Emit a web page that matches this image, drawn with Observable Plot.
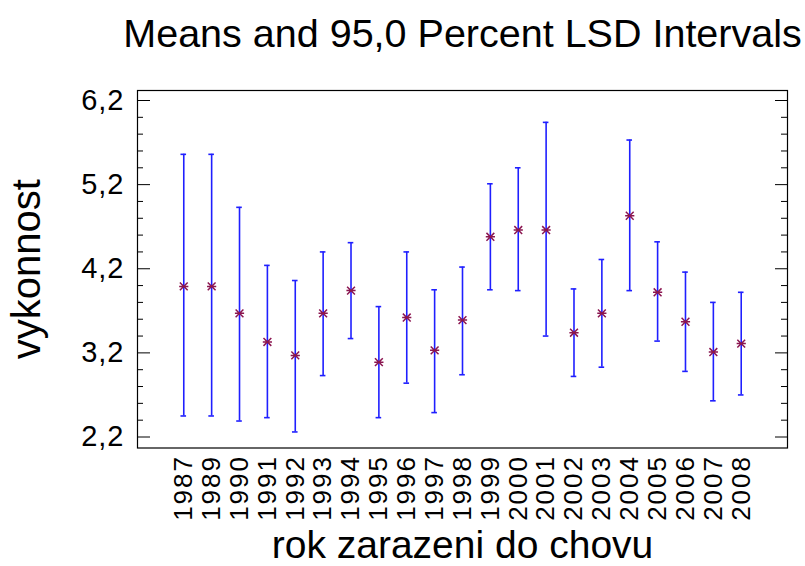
<!DOCTYPE html>
<html>
<head>
<meta charset="utf-8">
<script src="https://cdn.jsdelivr.net/npm/d3@7"></script>
<script src="https://cdn.jsdelivr.net/npm/@observablehq/plot@0.6"></script>
<style>
  body { margin: 0; background: white; }
  g[aria-label="x-axis tick label"] text { letter-spacing: 2px; }
  g[aria-label="y-axis tick label"] text { letter-spacing: 1px; }
</style>
</head>
<body>
<div id="chart"></div>
<script>
// Year of entry into the herd (categories)
const years = ["1987","1989","1990","1991","1992","1993","1994","1995","1996","1997","1998",
               "1999","2000","2001","2002","2003","2004","2005","2006","2007","2008"];
// Group means of performance
const means = [3.99,3.99,3.67,3.33,3.17,3.67,3.94,3.09,3.62,3.23,3.59,
               4.58,4.66,4.66,3.44,3.67,4.83,3.92,3.57,3.21,3.31];
// 95% LSD interval limits
const lower = [2.45,2.45,2.39,2.43,2.26,2.93,3.37,2.43,2.84,2.49,2.94,
               3.95,3.94,3.40,2.92,3.03,3.94,3.34,2.98,2.63,2.70];
const upper = [5.56,5.56,4.93,4.24,4.06,4.40,4.51,3.75,4.40,3.95,4.22,
               5.21,5.40,5.94,3.96,4.31,5.73,4.52,4.16,3.80,3.92];
// Y axis ticks
const majorTicks = [2.2, 3.2, 4.2, 5.2, 6.2];
const minorTicks = [2.4,2.6,2.8,3.0,3.4,3.6,3.8,4.0,4.4,4.6,4.8,5.0,5.4,5.6,5.8,6.0];

// Groups are placed at their index along a linear x scale
const rows = years.map((year, i) => ({i, year, mean: means[i], lower: lower[i], upper: upper[i]}));

const W = 805, H = 566;
const mL = 137, mR = 18, mT = 90, mB = 118.5;
const frameW = W - mL - mR;

// Asterisk marker: horizontal bar plus two diagonals
const asterisk = {
  draw(context, size) {
    const r = Math.sqrt(size / Math.PI);
    const d = r * 0.85;
    context.moveTo(-r, 0); context.lineTo(r, 0);
    context.moveTo(-d, -d); context.lineTo(d, d);
    context.moveTo(-d, d); context.lineTo(d, -d);
  }
};

const comma = d => d.toFixed(1).replace(".", ",");
const font = "'Liberation Sans', Arial, sans-serif";
const barColor = "#1f1fff";

const chart = Plot.plot({
  width: W,
  height: H,
  marginLeft: mL,
  marginRight: mR,
  marginTop: mT,
  marginBottom: mB,
  style: {fontFamily: font, background: "white", color: "black"},
  x: {type: "linear", domain: [-1.66, years.length - 1 + 1.66]},
  y: {domain: [2.2, 6.2], insetTop: 10, insetBottom: 11},
  marks: [
    Plot.frame({stroke: "black", strokeWidth: 1.2}),
    // inward ticks on the left and right edges
    Plot.ruleY(majorTicks, {y: d => d, insetRight: frameW - 13, stroke: "black"}),
    Plot.ruleY(minorTicks, {y: d => d, insetRight: frameW - 6, stroke: "black"}),
    Plot.ruleY(majorTicks, {y: d => d, insetLeft: frameW - 12, stroke: "black"}),
    Plot.ruleY(minorTicks, {y: d => d, insetLeft: frameW - 6, stroke: "black"}),
    Plot.axisY({ticks: majorTicks, tickSize: 0, tickPadding: 13, tickFormat: comma,
                fontSize: 29, label: null}),
    Plot.axisX({ticks: d3.range(years.length), tickFormat: i => years[i],
                tickRotate: -90, tickSize: 0, tickPadding: 7, fontSize: 26, label: null}),
    // LSD intervals
    Plot.ruleX(rows, {x: "i", y1: "lower", y2: "upper", stroke: barColor, strokeWidth: 1.6}),
    Plot.ruleY(rows, {x1: "i", x2: "i", y: "upper", insetLeft: -2.8, insetRight: -2.8, stroke: barColor, strokeWidth: 1.6}),
    Plot.ruleY(rows, {x1: "i", x2: "i", y: "lower", insetLeft: -2.8, insetRight: -2.8, stroke: barColor, strokeWidth: 1.6}),
    // means
    Plot.dot(rows, {x: "i", y: "mean", symbol: asterisk, r: 4.6, stroke: "#8b1650", strokeWidth: 1.5}),
    // titles
    Plot.text(["Means and 95,0 Percent LSD Intervals"], {frameAnchor: "top", dy: -44, lineAnchor: "bottom", fontSize: 39.5}),
    Plot.text(["rok zarazeni do chovu"], {frameAnchor: "bottom", dy: 110, lineAnchor: "bottom", fontSize: 39}),
    Plot.text(["vykonnost"], {frameAnchor: "left", textAnchor: "middle", dx: -110, rotate: -90, fontSize: 40})
  ]
});

document.getElementById("chart").appendChild(chart);
</script>
</body>
</html>
